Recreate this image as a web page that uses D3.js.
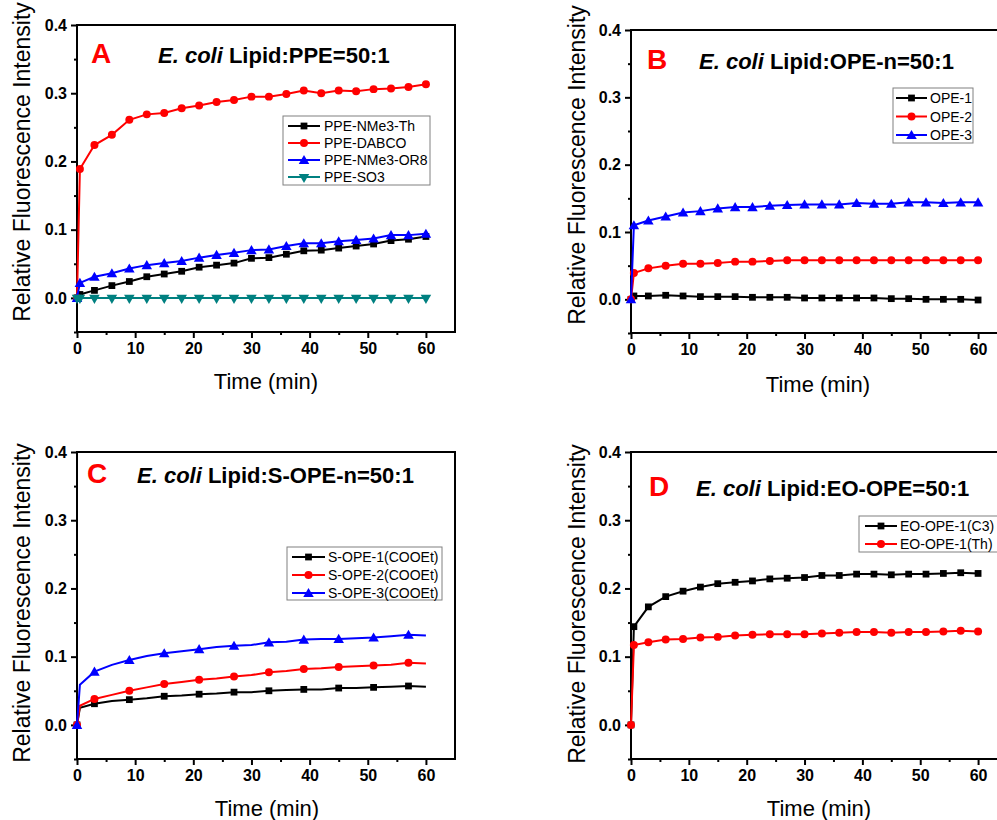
<!DOCTYPE html>
<html>
<head>
<meta charset="utf-8">
<script src="https://cdn.jsdelivr.net/npm/d3@7"></script>
<style>
  body { margin: 0; background: #fff; }
  svg { display: block; font-family: Arial, 'Liberation Sans', sans-serif; }
  .axis path, .axis line { stroke: #000; stroke-width: 2; }
  .axis text { font-size: 16px; font-weight: bold; fill: #000; }
</style>
</head>
<body>
<svg id="chart" width="997" height="820"></svg>
<script>
// time points (min)
const timeMin = [0, 0.5, 3, 6, 9, 12, 15, 18, 21, 24, 27, 30, 33, 36, 39, 42, 45, 48, 51, 54, 57, 60];

const xTicks = [0, 10, 20, 30, 40, 50, 60];
const xMinorTicks = [5, 15, 25, 35, 45, 55];
const yTicks = [0.0, 0.1, 0.2, 0.3, 0.4];
const yMinorTicks = [-0.05, 0.05, 0.15, 0.25, 0.35];

// panel A
const ppeNMe3Th   = [0, 0.005, 0.011, 0.018, 0.024, 0.031, 0.035, 0.039, 0.045, 0.048, 0.051, 0.058, 0.059, 0.064, 0.069, 0.070, 0.073, 0.076, 0.079, 0.084, 0.086, 0.090];
const ppeDABCO    = [0, 0.189, 0.224, 0.239, 0.261, 0.269, 0.271, 0.278, 0.282, 0.287, 0.290, 0.295, 0.295, 0.299, 0.304, 0.300, 0.304, 0.303, 0.306, 0.307, 0.309, 0.313];
const ppeNMe3OR8  = [0, 0.022, 0.031, 0.036, 0.043, 0.048, 0.051, 0.054, 0.059, 0.063, 0.066, 0.070, 0.071, 0.076, 0.080, 0.080, 0.083, 0.085, 0.087, 0.092, 0.092, 0.094];
const ppeSO3      = [0, 0, 0, 0, 0, 0, 0, 0, 0, 0, 0, 0, 0, 0, 0, 0, 0, 0, 0, 0, 0, 0];

// panel B
const ope1 = [0, 0.005, 0.005, 0.006, 0.005, 0.004, 0.004, 0.004, 0.003, 0.003, 0.003, 0.002, 0.002, 0.002, 0.002, 0.002, 0.001, 0.001, 0.000, 0.000, 0.000, -0.001];
const ope2 = [0, 0.039, 0.046, 0.050, 0.053, 0.053, 0.054, 0.056, 0.056, 0.057, 0.058, 0.058, 0.058, 0.058, 0.058, 0.058, 0.058, 0.058, 0.058, 0.058, 0.058, 0.058];
const ope3 = [0, 0.110, 0.117, 0.123, 0.129, 0.131, 0.135, 0.137, 0.137, 0.139, 0.140, 0.141, 0.141, 0.141, 0.143, 0.142, 0.142, 0.144, 0.144, 0.143, 0.144, 0.144];

// panel C
const sOpe1 = [0, 0.025, 0.031, 0.035, 0.037, 0.039, 0.042, 0.043, 0.045, 0.046, 0.048, 0.048, 0.050, 0.051, 0.052, 0.052, 0.054, 0.054, 0.055, 0.056, 0.057, 0.056];
const sOpe2 = [0, 0.028, 0.038, 0.044, 0.050, 0.055, 0.060, 0.063, 0.066, 0.068, 0.071, 0.073, 0.077, 0.079, 0.082, 0.083, 0.085, 0.086, 0.087, 0.088, 0.091, 0.090];
const sOpe3 = [0, 0.059, 0.078, 0.088, 0.095, 0.101, 0.105, 0.108, 0.111, 0.114, 0.116, 0.117, 0.121, 0.122, 0.125, 0.126, 0.126, 0.127, 0.128, 0.130, 0.132, 0.131];

// panel D
const eoOpeC3 = [0, 0.144, 0.173, 0.188, 0.196, 0.202, 0.207, 0.209, 0.211, 0.214, 0.215, 0.216, 0.219, 0.219, 0.221, 0.221, 0.220, 0.221, 0.221, 0.222, 0.223, 0.222];
const eoOpeTh = [0, 0.117, 0.121, 0.125, 0.126, 0.128, 0.129, 0.131, 0.132, 0.133, 0.133, 0.133, 0.134, 0.135, 0.136, 0.136, 0.135, 0.136, 0.136, 0.137, 0.138, 0.137];

const svg = d3.select('#chart');

const panels = [
  {
    letter: 'A', suffix: ' Lipid:PPE=50:1',
    box: { left: 77, right: 455, top: 25, bottom: 332 },
    letterX: 91, titleX: 158, titleY: 63,
    yLabelX: 22, yLabelY: 162, xLabelX: 266, xLabelY: 389,
    legend: { x: 283, y: 116, w: 147, h: 69, row0: 126, dy: 17, l0: 288, l1: 320, tx: 324 },
    markEvery: 1,
    series: [
      { name: 'PPE-NMe3-Th', values: ppeNMe3Th, color: '#000000', shape: 'square' },
      { name: 'PPE-DABCO', values: ppeDABCO, color: '#ff0000', shape: 'circle' },
      { name: 'PPE-NMe3-OR8', values: ppeNMe3OR8, color: '#0000ff', shape: 'up' },
      { name: 'PPE-SO3', values: ppeSO3, color: '#008080', shape: 'down' }
    ]
  },
  {
    letter: 'B', suffix: ' Lipid:OPE-n=50:1',
    box: { left: 631, right: 1007, top: 30, bottom: 333 },
    letterX: 647, titleX: 699, titleY: 69,
    yLabelX: 577, yLabelY: 165, xLabelX: 818, xLabelY: 392,
    legend: { x: 893, y: 88, w: 80, h: 55, row0: 98, dy: 18.5, l0: 896, l1: 927, tx: 930 },
    markEvery: 1,
    series: [
      { name: 'OPE-1', values: ope1, color: '#000000', shape: 'square' },
      { name: 'OPE-2', values: ope2, color: '#ff0000', shape: 'circle' },
      { name: 'OPE-3', values: ope3, color: '#0000ff', shape: 'up' }
    ]
  },
  {
    letter: 'C', suffix: ' Lipid:S-OPE-n=50:1',
    box: { left: 77, right: 455, top: 452, bottom: 759 },
    letterX: 87, titleX: 137, titleY: 483,
    yLabelX: 22, yLabelY: 603, xLabelX: 267, xLabelY: 816,
    legend: { x: 287, y: 547, w: 155, h: 53, row0: 557, dy: 18, l0: 292, l1: 325, tx: 328 },
    markEvery: 2,
    series: [
      { name: 'S-OPE-1(COOEt)', values: sOpe1, color: '#000000', shape: 'square' },
      { name: 'S-OPE-2(COOEt)', values: sOpe2, color: '#ff0000', shape: 'circle' },
      { name: 'S-OPE-3(COOEt)', values: sOpe3, color: '#0000ff', shape: 'up' }
    ]
  },
  {
    letter: 'D', suffix: ' Lipid:EO-OPE=50:1',
    box: { left: 631, right: 1007, top: 452, bottom: 759 },
    letterX: 649, titleX: 696, titleY: 496,
    yLabelX: 577, yLabelY: 604, xLabelX: 819, xLabelY: 816,
    legend: { x: 859, y: 516, w: 150, h: 36, row0: 526, dy: 18, l0: 865, l1: 897, tx: 900 },
    markEvery: 1,
    series: [
      { name: 'EO-OPE-1(C3)', values: eoOpeC3, color: '#000000', shape: 'square' },
      { name: 'EO-OPE-1(Th)', values: eoOpeTh, color: '#ff0000', shape: 'circle' }
    ]
  }
];

const symbolFor = shape => {
  if (shape === 'square') return d3.symbol().type(d3.symbolSquare).size(46)();
  if (shape === 'circle') return d3.symbol().type(d3.symbolCircle).size(50)();
  return d3.symbol().type(d3.symbolTriangle).size(48)();
};

const drawMarker = (g, shape, color, x, y) => {
  g.append('path')
    .attr('d', symbolFor(shape))
    .attr('fill', color)
    .attr('transform', `translate(${x},${y})` + (shape === 'down' ? ' rotate(180)' : (shape === 'up' ? ' translate(0,1)' : '')));
};

panels.forEach(p => {
  const b = p.box;
  const g = svg.append('g');

  const xScale = d3.scaleLinear().domain([0, 65]).range([b.left, b.right]);
  const yScale = d3.scaleLinear().domain([-0.05, 0.4]).range([b.bottom, b.top]);

  // frame (top and right)
  g.append('rect')
    .attr('x', b.left).attr('y', b.top)
    .attr('width', b.right - b.left).attr('height', b.bottom - b.top)
    .attr('fill', 'none').attr('stroke', '#000').attr('stroke-width', 2);

  // x axis
  g.append('g')
    .attr('class', 'axis')
    .attr('transform', `translate(0,${b.bottom})`)
    .call(d3.axisBottom(xScale).tickValues(xTicks).tickSize(6).tickPadding(5).tickSizeOuter(0))
    .call(a => a.select('.domain').remove());
  g.append('g')
    .attr('class', 'axis')
    .attr('transform', `translate(0,${b.bottom})`)
    .call(d3.axisBottom(xScale).tickValues(xMinorTicks).tickSize(3).tickFormat(''))
    .call(a => a.select('.domain').remove());

  // y axis
  g.append('g')
    .attr('class', 'axis')
    .attr('transform', `translate(${b.left},0)`)
    .call(d3.axisLeft(yScale).tickValues(yTicks).tickSize(6).tickPadding(4).tickFormat(d3.format('.1f')))
    .call(a => a.select('.domain').remove());
  g.append('g')
    .attr('class', 'axis')
    .attr('transform', `translate(${b.left},0)`)
    .call(d3.axisLeft(yScale).tickValues(yMinorTicks).tickSize(3).tickFormat(''))
    .call(a => a.select('.domain').remove());

  // axis labels
  g.append('text')
    .attr('transform', `translate(${p.yLabelX},${p.yLabelY}) rotate(-90)`)
    .attr('text-anchor', 'middle')
    .attr('dominant-baseline', 'central')
    .style('font-size', '23px')
    .text('Relative Fluorescence Intensity');

  g.append('text')
    .attr('x', p.xLabelX).attr('y', p.xLabelY)
    .attr('text-anchor', 'middle')
    .style('font-size', '22px')
    .text('Time (min)');

  // panel letter and title
  g.append('text')
    .attr('x', p.letterX).attr('y', p.titleY)
    .attr('fill', '#ff0000')
    .style('font-size', '28px').style('font-weight', 'bold')
    .text(p.letter);

  const title = g.append('text')
    .attr('x', p.titleX).attr('y', p.titleY)
    .style('font-size', '22px').style('font-weight', 'bold');
  title.append('tspan').style('font-style', 'italic').text('E. coli');
  title.append('tspan').text(p.suffix);

  // data
  const line = d3.line()
    .x((d, i) => xScale(timeMin[i]))
    .y(d => yScale(d));

  p.series.forEach(s => {
    g.append('path')
      .datum(s.values)
      .attr('d', line)
      .attr('fill', 'none')
      .attr('stroke', s.color)
      .attr('stroke-width', 2);

    s.values.forEach((v, i) => {
      if (i % p.markEvery !== 0) return;
      drawMarker(g, s.shape, s.color, xScale(timeMin[i]), yScale(v));
    });
  });

  // legend
  const lg = p.legend;
  g.append('rect')
    .attr('x', lg.x).attr('y', lg.y)
    .attr('width', lg.w).attr('height', lg.h)
    .attr('fill', '#fff').attr('stroke', '#808080').attr('stroke-width', 1);

  p.series.forEach((s, i) => {
    const yy = lg.row0 + i * lg.dy;
    g.append('line')
      .attr('x1', lg.l0).attr('x2', lg.l1)
      .attr('y1', yy).attr('y2', yy)
      .attr('stroke', s.color).attr('stroke-width', 2);
    drawMarker(g, s.shape, s.color, (lg.l0 + lg.l1) / 2, yy);
    g.append('text')
      .attr('x', lg.tx).attr('y', yy)
      .attr('dominant-baseline', 'central')
      .style('font-size', '14px')
      .text(s.name);
  });
});
</script>
</body>
</html>
